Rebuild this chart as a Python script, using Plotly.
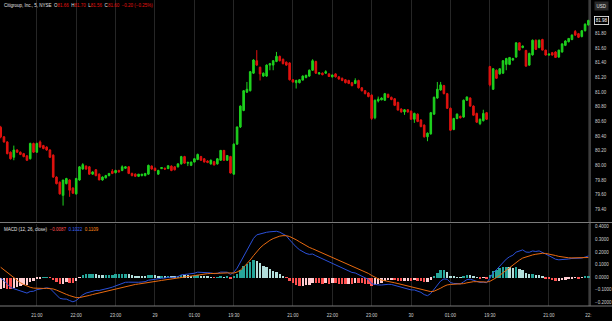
import pandas as pd
import plotly.graph_objects as go
from plotly.subplots import make_subplots

# ---------------- data ----------------
open_ = [80.52, 80.39, 80.32, 80.18, 80.11, 80.21, 80.18, 80.16, 80.13, 80.09,
         80.30, 80.18, 80.32, 80.27, 80.25, 80.21, 80.14, 79.84, 79.77, 79.59,
         79.75, 79.80, 79.69, 79.61, 79.80, 79.95, 79.99, 79.98, 79.88, 79.94,
         79.88, 79.80, 79.83, 79.86, 79.92, 79.90, 79.93, 79.93, 79.96, 79.98,
         79.89, 79.88, 79.85, 79.86, 79.86, 79.88, 79.99, 79.96, 79.88, 79.955,
         79.96, 79.955, 79.99, 79.98, 79.98, 80.02, 80.12, 80.03, 80.00, 80.045,
         80.08, 80.12, 80.09, 80.06, 80.02, 80.05, 80.02, 80.07, 80.205, 80.07,
         80.12, 79.88, 80.29, 80.525, 80.75, 81.00, 81.02, 81.26, 81.43, 81.34,
         81.22, 81.22, 81.37, 81.37, 81.42, 81.49, 81.45, 81.41, 81.40, 81.17,
         81.13, 81.13, 81.165, 81.20, 81.22, 81.30, 81.42, 81.25, 81.26, 81.26,
         81.25, 81.21, 81.25, 81.21, 81.19, 81.17, 81.16, 81.13, 81.12, 81.16,
         81.06, 81.02, 80.99, 80.96, 80.65, 80.88, 80.895, 80.89, 80.97, 80.93,
         80.91, 80.86, 80.77, 80.73, 80.76, 80.74, 80.63, 80.70, 80.62, 80.55,
         80.39, 80.43, 80.70, 80.92, 81.03, 81.09, 80.98, 80.78, 80.49, 80.64,
         80.67, 80.66, 80.89, 80.92, 80.81, 80.71, 80.57, 80.61, 80.72, 81.35,
         81.04, 81.30, 81.25, 81.26, 81.38, 81.38, 81.44, 81.48, 81.675, 81.61,
         81.57, 81.37, 81.51, 81.71, 81.61, 81.72, 81.575, 81.507, 81.54, 81.55,
         81.48, 81.55, 81.64, 81.69, 81.72, 81.83, 81.80, 81.76, 81.84, 81.92]
high = [80.54, 80.40, 80.33, 80.19, 80.27, 80.22, 80.19, 80.17, 80.14, 80.31,
        80.31, 80.31, 80.34, 80.28, 80.26, 80.22, 80.15, 79.85, 79.78, 79.80,
        79.83, 79.81, 79.70, 79.83, 79.99, 80.03, 80.00, 79.99, 79.92, 79.95,
        79.89, 79.85, 79.87, 79.89, 79.95, 79.94, 79.94, 80.00, 79.99, 79.99,
        79.90, 79.89, 79.88, 79.88, 79.89, 80.01, 80.00, 79.97, 79.94, 79.97,
        79.97, 80.00, 80.00, 79.99, 80.03, 80.13, 80.13, 80.05, 80.05, 80.10,
        80.16, 80.13, 80.10, 80.07, 80.08, 80.06, 80.10, 80.21, 80.21, 80.14,
        80.13, 80.30, 80.53, 80.82, 81.03, 81.14, 81.29, 81.45, 81.575, 81.35,
        81.27, 81.38, 81.40, 81.44, 81.55, 81.50, 81.46, 81.42, 81.41, 81.18,
        81.17, 81.18, 81.23, 81.24, 81.31, 81.45, 81.43, 81.27, 81.27, 81.30,
        81.26, 81.24, 81.26, 81.22, 81.20, 81.18, 81.17, 81.14, 81.19, 81.17,
        81.07, 81.03, 81.00, 80.97, 80.90, 80.94, 80.93, 80.99, 80.98, 80.94,
        80.92, 80.87, 80.78, 80.77, 80.77, 80.75, 80.72, 80.71, 80.63, 80.56,
        80.45, 80.73, 80.94, 81.14, 81.14, 81.10, 80.99, 80.79, 80.65, 80.71,
        80.68, 80.90, 80.94, 80.93, 80.82, 80.72, 80.64, 80.76, 80.73, 81.36,
        81.33, 81.31, 81.33, 81.44, 81.47, 81.48, 81.47, 81.68, 81.68, 81.64,
        81.58, 81.54, 81.72, 81.72, 81.72, 81.73, 81.58, 81.53, 81.55, 81.56,
        81.58, 81.67, 81.71, 81.74, 81.79, 81.85, 81.81, 81.85, 81.94, 81.99]
low = [80.37, 80.31, 80.15, 80.08, 80.07, 80.17, 80.14, 80.11, 80.06, 80.08,
       80.17, 80.17, 80.24, 80.22, 80.20, 80.10, 79.83, 79.74, 79.60, 79.45,
       79.74, 79.57, 79.61, 79.60, 79.79, 79.94, 79.94, 79.87, 79.87, 79.85,
       79.80, 79.79, 79.82, 79.85, 79.88, 79.89, 79.90, 79.92, 79.95, 79.88,
       79.85, 79.84, 79.84, 79.85, 79.85, 79.87, 79.94, 79.92, 79.87, 79.95,
       79.94, 79.95, 79.92, 79.93, 79.97, 80.01, 80.02, 79.99, 79.99, 80.04,
       80.07, 80.06, 80.04, 80.03, 80.01, 80.00, 80.01, 80.06, 80.06, 80.06,
       79.89, 79.87, 80.28, 80.51, 80.74, 80.99, 81.01, 81.25, 81.36, 81.16,
       81.21, 81.21, 81.30, 81.30, 81.41, 81.42, 81.38, 81.36, 81.16, 81.13,
       81.05, 81.12, 81.16, 81.19, 81.21, 81.29, 81.25, 81.24, 81.23, 81.25,
       81.21, 81.20, 81.20, 81.17, 81.15, 81.12, 81.11, 81.08, 81.11, 81.05,
       81.01, 80.97, 80.93, 80.62, 80.63, 80.86, 80.89, 80.88, 80.92, 80.89,
       80.81, 80.75, 80.72, 80.69, 80.72, 80.62, 80.58, 80.59, 80.52, 80.38,
       80.33, 80.42, 80.69, 80.91, 81.02, 80.97, 80.77, 80.47, 80.48, 80.63,
       80.64, 80.65, 80.88, 80.80, 80.68, 80.58, 80.55, 80.60, 80.62, 81.08,
       81.03, 81.18, 81.24, 81.25, 81.30, 81.37, 81.43, 81.47, 81.57, 81.60,
       81.35, 81.36, 81.50, 81.58, 81.60, 81.57, 81.50, 81.50, 81.50, 81.47,
       81.47, 81.54, 81.63, 81.68, 81.71, 81.77, 81.74, 81.75, 81.83, 81.91]
close = [80.39, 80.32, 80.16, 80.09, 80.21, 80.18, 80.15, 80.12, 80.07, 80.30,
         80.18, 80.30, 80.25, 80.23, 80.21, 80.11, 79.84, 79.75, 79.61, 79.80,
         79.82, 79.66, 79.62, 79.82, 79.98, 80.01, 79.95, 79.88, 79.91, 79.86,
         79.80, 79.84, 79.86, 79.89, 79.89, 79.93, 79.91, 79.98, 79.98, 79.89,
         79.86, 79.85, 79.88, 79.88, 79.89, 80.00, 79.95, 79.93, 79.93, 79.97,
         79.95, 79.995, 79.93, 79.94, 80.02, 80.12, 80.03, 80.04, 80.045, 80.09,
         80.15, 80.07, 80.045, 80.04, 80.07, 80.005, 80.09, 80.205, 80.07, 80.135,
         79.895, 80.29, 80.525, 80.81, 81.02, 81.04, 81.28, 81.44, 81.37, 81.25,
         81.26, 81.37, 81.39, 81.43, 81.49, 81.43, 81.39, 81.37, 81.17, 81.14,
         81.16, 81.17, 81.22, 81.23, 81.30, 81.43, 81.26, 81.265, 81.24, 81.28,
         81.215, 81.235, 81.21, 81.18, 81.16, 81.13, 81.12, 81.09, 81.16, 81.06,
         81.02, 80.98, 80.94, 80.64, 80.89, 80.905, 80.92, 80.98, 80.93, 80.90,
         80.82, 80.755, 80.73, 80.76, 80.73, 80.63, 80.71, 80.60, 80.53, 80.39,
         80.44, 80.72, 80.93, 81.04, 81.10, 80.98, 80.78, 80.48, 80.64, 80.70,
         80.65, 80.89, 80.935, 80.81, 80.685, 80.59, 80.63, 80.71, 80.63, 81.10,
         81.32, 81.19, 81.32, 81.43, 81.46, 81.475, 81.46, 81.675, 81.575, 81.63,
         81.356, 81.53, 81.71, 81.585, 81.71, 81.575, 81.507, 81.52, 81.507, 81.475,
         81.575, 81.66, 81.70, 81.735, 81.78, 81.78, 81.75, 81.84, 81.93, 81.98]

# trading sessions (5-minute bars)
session_starts = ["2020-01-28 20:05", "2020-01-29 19:30", "2020-01-30 19:30"]
session_bars = [71, 78, 31]

# MACD (12, 26, close) with its state at the left edge of the view
macd_fast, macd_slow, macd_sig = 12, 26, 9
ema_fast_start, ema_slow_start, signal_start = 80.60, 80.59, 0.10

price_ticks = [79.4, 79.6, 79.8, 80.0, 80.2, 80.4, 80.6, 80.8, 81.0, 81.2, 81.4, 81.6, 81.8]
macd_ticks = [-0.2, -0.1, 0.0, 0.1, 0.2, 0.3, 0.4]

header_title = "Citigroup, Inc., 5, NYSE"
header_ohlc = [("O", "81.66"), ("H", "81.70"), ("L", "81.56"), ("C", "81.60")]
header_chg = "\u22120.20 (\u22120.25%)"
macd_title = "MACD (12, 26, close)"
macd_vals = ["\u22120.0087", "0.1022", "0.1109"]

# ---------------- derived ----------------
times = []
for s, n in zip(session_starts, session_bars):
    times += list(pd.date_range(s, periods=n, freq="5min"))
x = list(range(len(times)))

tick_idx, tick_txt = [], []
for i, t in enumerate(times):
    if (t.hour, t.minute) == (19, 30):
        tick_idx.append(i); tick_txt.append("19:30")
    elif t.minute == 0 and t.hour != 20:
        tick_idx.append(i)
        tick_txt.append(str(t.day) if t.hour == 0 else t.strftime("%H:%M"))
tick_txt[-1] = tick_txt[-1][:3]   # last label is cut by the price scale

af, as_, ag = 2 / (macd_fast + 1), 2 / (macd_slow + 1), 2 / (macd_sig + 1)
ef, es, sg = ema_fast_start, ema_slow_start, signal_start
macd, signal = [], []
for c in close:
    ef += af * (c - ef)
    es += as_ * (c - es)
    m = ef - es
    sg += ag * (m - sg)
    macd.append(m); signal.append(sg)
hist = [m - s for m, s in zip(macd, signal)]
hcol = []
prev = ema_fast_start - ema_slow_start - signal_start
for h in hist:
    if h >= 0:
        hcol.append("#26A69A" if h > prev else "#B2DFDB")
    else:
        hcol.append("#FF5252" if h < prev else "#FFCDD2")
    prev = h

# ---------------- figure ----------------
W, H = 612, 321
ML, MR, MT, MB = 0, 22, 0, 15
PW, PH = W - ML - MR, H - MT - MB
top_split = 222.5

fig = make_subplots(rows=2, cols=1, shared_xaxes=True, vertical_spacing=0)
fig.add_trace(go.Candlestick(
    x=x, open=open_, high=high, low=low, close=close,
    increasing=dict(line=dict(color="#1ED21E", width=1), fillcolor="#1ED21E"),
    decreasing=dict(line=dict(color="#E0120F", width=1), fillcolor="#E0120F"),
    whiskerwidth=0, showlegend=False, hoverinfo="skip"), row=1, col=1)
fig.add_trace(go.Bar(x=x, y=hist, marker=dict(color=hcol, line=dict(width=0)),
                     width=0.75, showlegend=False), row=2, col=1)
fig.add_trace(go.Scatter(x=x, y=macd, mode="lines", line=dict(color="#2B50D8", width=1),
                         showlegend=False), row=2, col=1)
fig.add_trace(go.Scatter(x=x, y=signal, mode="lines", line=dict(color="#E86A10", width=1),
                         showlegend=False), row=2, col=1)

xr = [-0.21, 179.5]
grid = "#262626"
axfont = dict(family="Liberation Sans, Arial, sans-serif", size=4.5, color="#d0d0d0")
fig.update_xaxes(range=xr, tickvals=tick_idx, ticktext=tick_txt, showgrid=True,
                 gridcolor=grid, gridwidth=1, zeroline=False, showline=False,
                 ticks="", rangeslider=dict(visible=False))
fig.update_xaxes(showticklabels=False, row=1, col=1)
fig.update_xaxes(showticklabels=True, tickfont=axfont, ticklabelstandoff=5, row=2, col=1)

fig.update_yaxes(side="right", showgrid=False, zeroline=False, showline=False, ticks="",
                 tickfont=axfont, ticklabelstandoff=4)
fig.update_yaxes(range=[79.219, 82.26], tickvals=price_ticks,
                 ticktext=[f"{v:.2f}" for v in price_ticks],
                 domain=[(PH - top_split) / PH, 1], row=1, col=1)
fig.update_yaxes(range=[-0.228, 0.425], tickvals=macd_ticks,
                 ticktext=[f"{v:.4f}".replace("-", "\u2212") for v in macd_ticks],
                 domain=[0, (PH - top_split - 1) / PH], row=2, col=1)

line_col = "#7a7a7a"
xr_full = W / PW
fig.add_shape(type="line", xref="paper", yref="paper", x0=0, x1=xr_full,
              y0=(PH - top_split) / PH, y1=(PH - top_split) / PH,
              line=dict(color=line_col, width=1))
fig.add_shape(type="line", xref="paper", yref="paper", x0=0, x1=xr_full, y0=0, y1=0,
              line=dict(color=line_col, width=1))
fig.add_shape(type="line", xref="paper", yref="paper", x0=1, x1=1, y0=0, y1=1,
              line=dict(color=line_col, width=1))

txtfont = dict(family="Liberation Sans, Arial, sans-serif", size=4.5, color="#e0e0e0")
red = "#E0120F"
hdr = header_title + "  " + "  ".join(
    f"{k}<span style='color:{red}'>{v}</span>" for k, v in header_ohlc) + \
    f"  <span style='color:{red}'>{header_chg}</span>"
fig.add_annotation(xref="paper", yref="paper", x=2 / PW, y=(PH - 5) / PH, text=hdr,
                   showarrow=False, xanchor="left", yanchor="middle", font=txtfont)
mh = macd_title + "  " + "  ".join(
    f"<span style='color:{c}'>{v}</span>" for v, c in zip(macd_vals, ["#FF5252", "#3B66FF", "#FF8A1A"]))
fig.add_annotation(xref="paper", yref="paper", x=2 / PW, y=(PH - 229) / PH, text=mh,
                   showarrow=False, xanchor="left", yanchor="middle", font=txtfont)
fig.add_annotation(xref="paper", yref="paper", x=(601) / PW, y=(PH - 6) / PH, text="USD",
                   showarrow=False, xanchor="center", yanchor="middle", font=txtfont,
                   bgcolor="#2a2a2a", borderpad=1.5)
fig.add_annotation(xref="paper", yref="y", x=601 / PW, y=close[-1], text=f"{close[-1]:.2f}",
                   showarrow=False, xanchor="center", yanchor="middle",
                   font=dict(family="Liberation Sans, Arial, sans-serif", size=4.5, color="#ffffff"),
                   bgcolor="#000000", bordercolor="#ffffff", borderwidth=0.8, borderpad=1)

fig.update_layout(width=W, height=H, margin=dict(l=ML, r=MR, t=MT, b=MB),
                  paper_bgcolor="#000000", plot_bgcolor="#000000", bargap=0,
                  hovermode=False)
fig.write_html("out.html")
